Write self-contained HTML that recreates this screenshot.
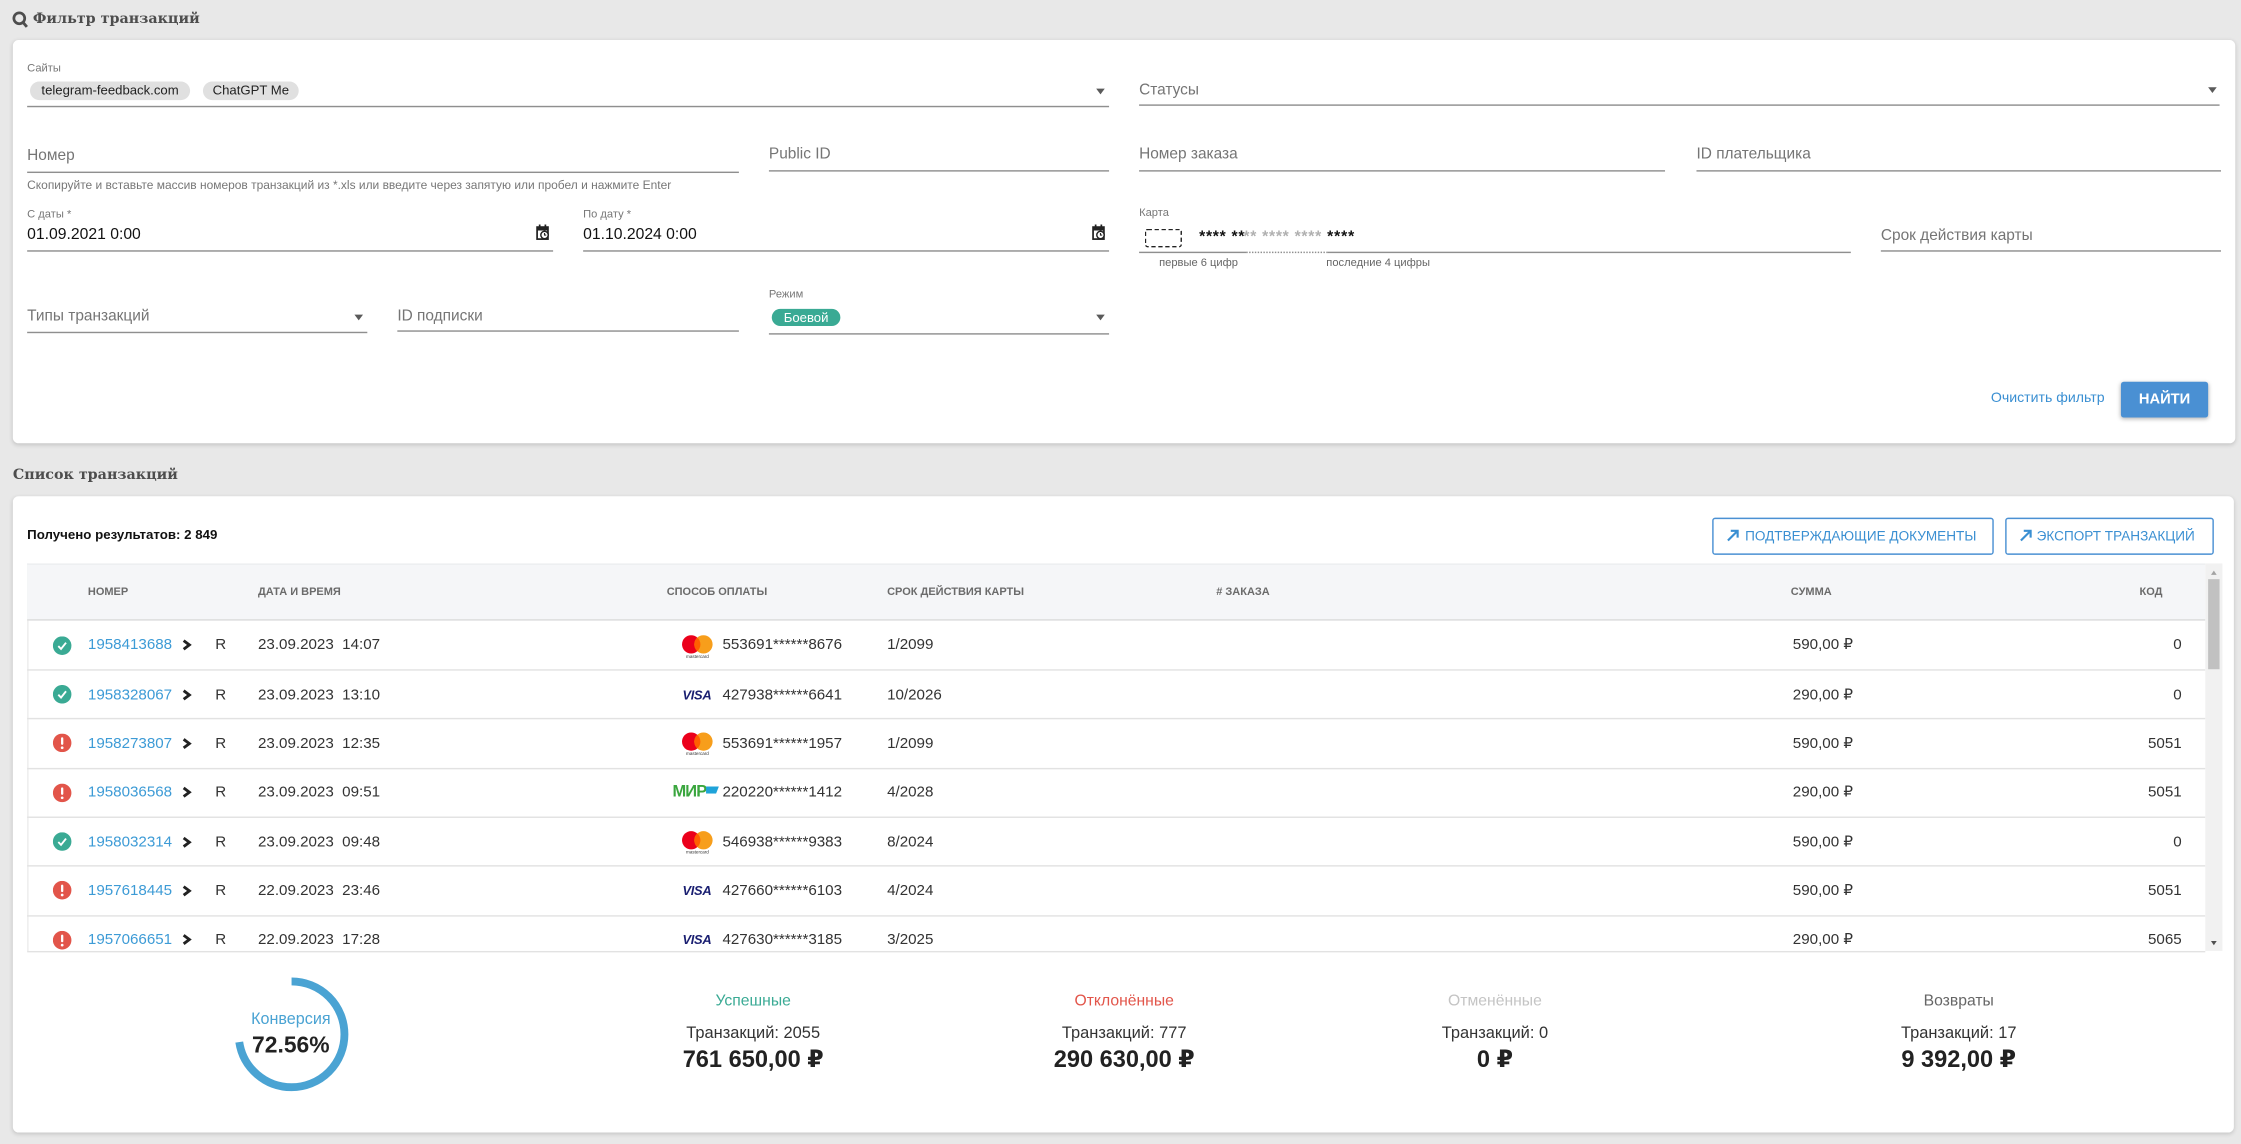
<!DOCTYPE html>
<html><head><meta charset="utf-8">
<style>
html,body{margin:0;padding:0;}
body{width:2241px;height:1144px;overflow:hidden;background:#e8e8e8;font-family:"Liberation Sans","DejaVu Sans",sans-serif;}
#w{position:absolute;left:0;top:0;width:1568px;height:800px;transform:scale(1.42921,1.43);transform-origin:0 0;}
.a{position:absolute;}
.t{position:absolute;white-space:nowrap;height:14px;line-height:14px;}
.lbl{font-size:10.8px;color:#757575;}
.sm{font-size:7.8px;color:#777;}
.ul{position:absolute;height:0.8px;background:#8f8f8f;}
.h{font-family:"DejaVu Serif","Liberation Serif",serif;font-weight:bold;font-size:10px;color:#4d4d4d;}
.panel{position:absolute;background:#fff;border-radius:4px;box-shadow:0 1px 3px rgba(0,0,0,0.16);}
.arr{position:absolute;width:0;height:0;border-left:3px solid transparent;border-right:3px solid transparent;border-top:4px solid #5a5a5a;}
.chip{position:absolute;background:#e0e0e0;border-radius:7px;font-size:9.2px;color:#222;text-align:center;height:13px;line-height:13px;white-space:nowrap;}
.th{position:absolute;white-space:nowrap;font-size:7.7px;font-weight:bold;color:#6b6b6b;height:12px;line-height:12px;}
.rl{position:absolute;left:19px;width:1524px;height:0.8px;background:#e2e2e2;}
.c{position:absolute;white-space:pre;font-size:10.6px;color:#333;height:14px;line-height:14px;}
.lnk{color:#3d9bd6;}
.st{position:absolute;width:200px;text-align:center;white-space:nowrap;}
</style></head>
<body>
<div id="w">

<!-- header 1 -->
<svg class="a" style="left:8px;top:7px" width="14" height="14" viewBox="0 0 14 14"><circle cx="5.5" cy="5.8" r="3.8" fill="none" stroke="#4d4d4d" stroke-width="1.9"/><line x1="8" y1="8.5" x2="10.8" y2="11.8" stroke="#4d4d4d" stroke-width="2"/></svg>
<div class="t h" style="left:23px;top:7px;">Фильтр транзакций</div>

<div class="panel" style="left:9px;top:28px;width:1555px;height:282px;"></div>

<!-- Row 1 -->
<div class="t sm" style="left:19px;top:40.5px;">Сайты</div>
<div class="chip" style="left:21px;top:57px;width:112px;">telegram-feedback.com</div>
<div class="chip" style="left:142px;top:57px;width:67px;">ChatGPT Me</div>
<div class="ul" style="left:19px;top:73.5px;width:757px;"></div>
<div class="arr" style="left:767px;top:61.5px;"></div>

<div class="t lbl" style="left:797px;top:55.5px;">Статусы</div>
<div class="ul" style="left:797px;top:73px;width:756px;"></div>
<div class="arr" style="left:1545px;top:61px;"></div>

<!-- Row 2 -->
<div class="t lbl" style="left:19px;top:101.5px;">Номер</div>
<div class="ul" style="left:19px;top:119.5px;width:498px;"></div>
<div class="t" style="left:19px;top:121.5px;font-size:8.4px;color:#777;">Скопируйте и вставьте массив номеров транзакций из *.xls или введите через запятую или пробел и нажмите Enter</div>

<div class="t lbl" style="left:538px;top:101px;">Public ID</div>
<div class="ul" style="left:538px;top:118.5px;width:238px;"></div>

<div class="t lbl" style="left:797px;top:101px;">Номер заказа</div>
<div class="ul" style="left:797px;top:118.5px;width:368px;"></div>

<div class="t lbl" style="left:1187px;top:101px;">ID плательщика</div>
<div class="ul" style="left:1187px;top:118.5px;width:367px;"></div>

<!-- Row 3 -->
<div class="t sm" style="left:19px;top:142.5px;">С даты *</div>
<div class="t" style="left:19px;top:156.5px;font-size:11px;color:#111;">01.09.2021 0:00</div>
<svg class="a" style="left:374.5px;top:156.5px" width="10" height="11" viewBox="0 0 10 11"><rect x="0.8" y="1.8" width="7.6" height="8.4" fill="none" stroke="#222" stroke-width="1.2"/><rect x="0.8" y="1.8" width="7.6" height="2.4" fill="#222"/><rect x="2" y="0" width="1.2" height="2.5" fill="#222"/><rect x="6" y="0" width="1.2" height="2.5" fill="#222"/><circle cx="6" cy="7.3" r="2.6" fill="#fff" stroke="#222" stroke-width="1"/><path d="M6 5.9 V7.4 H7.2" fill="none" stroke="#222" stroke-width="0.8"/></svg>
<div class="ul" style="left:19px;top:175px;width:368px;"></div>

<div class="t sm" style="left:408px;top:142.5px;">По дату *</div>
<div class="t" style="left:408px;top:156.5px;font-size:11px;color:#111;">01.10.2024 0:00</div>
<svg class="a" style="left:764px;top:156.5px" width="10" height="11" viewBox="0 0 10 11"><rect x="0.8" y="1.8" width="7.6" height="8.4" fill="none" stroke="#222" stroke-width="1.2"/><rect x="0.8" y="1.8" width="7.6" height="2.4" fill="#222"/><rect x="2" y="0" width="1.2" height="2.5" fill="#222"/><rect x="6" y="0" width="1.2" height="2.5" fill="#222"/><circle cx="6" cy="7.3" r="2.6" fill="#fff" stroke="#222" stroke-width="1"/><path d="M6 5.9 V7.4 H7.2" fill="none" stroke="#222" stroke-width="0.8"/></svg>
<div class="ul" style="left:408px;top:175px;width:368px;"></div>

<div class="t sm" style="left:797px;top:142px;">Карта</div>
<div class="a" style="left:801px;top:160px;width:23.5px;height:10.5px;border:1px dashed #222;border-radius:2px;"></div>
<div class="t" style="left:839px;top:159px;font-size:11px;font-weight:bold;color:#111;letter-spacing:0.5px;">**** **</div>
<div class="t" style="left:870px;top:159px;font-size:11px;font-weight:bold;color:#b0b0b0;letter-spacing:0.5px;">** **** ****</div>
<div class="t" style="left:928.6px;top:159px;font-size:11px;font-weight:bold;color:#111;letter-spacing:0.6px;">****</div>
<div class="ul" style="left:797px;top:175.5px;width:75px;"></div>
<div class="a" style="left:872px;top:175.5px;width:56.6px;height:0;border-top:0.8px dotted #8f8f8f;"></div>
<div class="ul" style="left:928.6px;top:175.5px;width:366.4px;"></div>
<div class="t" style="left:811px;top:177.3px;font-size:7.8px;color:#666;">первые 6 цифр</div>
<div class="t" style="left:928px;top:177.3px;font-size:7.8px;color:#666;">последние 4 цифры</div>

<div class="t lbl" style="left:1316px;top:157.5px;">Срок действия карты</div>
<div class="ul" style="left:1316px;top:175px;width:238px;"></div>

<!-- Row 4 -->
<div class="t lbl" style="left:19px;top:213.5px;">Типы транзакций</div>
<div class="ul" style="left:19px;top:231.5px;width:238px;"></div>
<div class="arr" style="left:248px;top:219.5px;"></div>

<div class="t lbl" style="left:278px;top:213.5px;">ID подписки</div>
<div class="ul" style="left:278px;top:231px;width:239px;"></div>

<div class="t sm" style="left:538px;top:198.7px;">Режим</div>
<div class="chip" style="left:540px;top:215.5px;width:48px;height:12.5px;line-height:12.5px;background:#3aaa94;color:#fff;">Боевой</div>
<div class="ul" style="left:538px;top:232.5px;width:238px;"></div>
<div class="arr" style="left:767px;top:219.5px;"></div>

<div class="t" style="left:1393px;top:272px;font-size:9.9px;color:#3a8fd2;">Очистить фильтр</div>
<div class="a" style="left:1484px;top:266.5px;width:61px;height:25px;background:#4a90d3;border-radius:2px;box-shadow:0 1px 3px rgba(0,0,0,0.3);color:#fff;font-size:10.3px;font-weight:bold;text-align:center;line-height:25px;">НАЙТИ</div>

<!-- header 2 -->
<div class="t h" style="left:9px;top:325.5px;">Список транзакций</div>
<div class="panel" style="left:9px;top:347px;width:1554px;height:445px;"></div>

<div class="t" style="left:19px;top:367px;font-size:9.3px;font-weight:bold;color:#111;">Получено результатов: 2 849</div>

<div class="a" style="left:1198px;top:362px;width:195px;height:23.5px;border:1px solid #4a90d3;border-radius:2px;"></div>
<svg class="a" style="left:1208px;top:370px" width="9" height="9" viewBox="0 0 9 9"><path d="M1 8 L7.5 1.5 M3 1.2 H7.8 V6" fill="none" stroke="#3a8fd2" stroke-width="1.5"/></svg>
<div class="t" style="left:1221px;top:368.5px;font-size:9.5px;color:#3a8fd2;">ПОДТВЕРЖДАЮЩИЕ ДОКУМЕНТЫ</div>

<div class="a" style="left:1402.5px;top:362px;width:144px;height:23.5px;border:1px solid #4a90d3;border-radius:2px;"></div>
<svg class="a" style="left:1413px;top:370px" width="9" height="9" viewBox="0 0 9 9"><path d="M1 8 L7.5 1.5 M3 1.2 H7.8 V6" fill="none" stroke="#3a8fd2" stroke-width="1.5"/></svg>
<div class="t" style="left:1425px;top:368.5px;font-size:9.5px;color:#3a8fd2;">ЭКСПОРТ ТРАНЗАКЦИЙ</div>

<!-- table -->
<div class="a" style="left:19px;top:394px;width:1524px;height:271px;border-left:0.8px solid #ececec;box-sizing:border-box;"></div>
<div class="a" style="left:19px;top:394px;width:1524px;height:40px;background:#f5f6f8;border-top:0.8px solid #eceef0;box-sizing:border-box;"></div>
<div class="a" style="left:19px;top:433.2px;width:1524px;height:1.2px;background:#dcdcdc;"></div>
<div class="th" style="left:61.5px;top:408px;">НОМЕР</div>
<div class="th" style="left:180.5px;top:408px;">ДАТА И ВРЕМЯ</div>
<div class="th" style="left:466.5px;top:408px;">СПОСОБ ОПЛАТЫ</div>
<div class="th" style="left:620.7px;top:408px;">СРОК ДЕЙСТВИЯ КАРТЫ</div>
<div class="th" style="left:851px;top:408px;"># ЗАКАЗА</div>
<div class="th" style="left:1253px;top:408px;">СУММА</div>
<div class="th" style="left:1497px;top:408px;">КОД</div>

<div class="rl" style="top:468px;"></div>
<div class="rl" style="top:502.3px;"></div>
<div class="rl" style="top:536.6px;"></div>
<div class="rl" style="top:570.9px;"></div>
<div class="rl" style="top:605.2px;"></div>
<div class="rl" style="top:639.5px;"></div>
<div class="rl" style="top:664.5px;"></div>

<!-- scrollbar -->
<div class="a" style="left:1543px;top:394px;width:12px;height:271px;background:#f1f1f1;"></div>
<div class="a" style="left:1545px;top:405px;width:8px;height:63px;background:#c1c1c1;"></div>
<div class="a" style="left:1546.5px;top:398.5px;width:0;height:0;border-left:2.5px solid transparent;border-right:2.5px solid transparent;border-bottom:3px solid #a3a3a3;"></div>
<div class="a" style="left:1546.5px;top:657.5px;width:0;height:0;border-left:2.5px solid transparent;border-right:2.5px solid transparent;border-top:3px solid #505050;"></div>

<!-- ROW 1 (cy 451.3) -->
<svg class="a" style="left:37px;top:444.8px" width="13" height="13" viewBox="0 0 13 13"><circle cx="6.5" cy="6.5" r="6.5" fill="#3aaa94"/><path d="M3.8 6.8 L5.7 8.8 L9.2 4.4" stroke="#fff" stroke-width="1.3" fill="none"/></svg>
<div class="c lnk" style="left:61.5px;top:444.3px;">1958413688</div>
<svg class="a" style="left:127px;top:447.3px" width="8" height="8" viewBox="0 0 8 8"><path d="M1.5 1 L5.5 4 L1.5 7" fill="none" stroke="#222" stroke-width="2"/></svg>
<div class="c" style="left:150.6px;top:444.3px;">R</div>
<div class="c" style="left:180.5px;top:444.3px;">23.09.2023  14:07</div>
<svg class="a" style="left:476.5px;top:443.5px" width="22" height="17" viewBox="0 0 22 17"><circle cx="6.6" cy="6.6" r="6.4" fill="#eb001b"/><circle cx="15.2" cy="6.6" r="6.4" fill="#f79e1b"/><path d="M10.9 1.8 A6.4 6.4 0 0 1 10.9 11.4 A6.4 6.4 0 0 1 10.9 1.8Z" fill="#ff5f00"/><text x="11" y="16" font-size="3.2" text-anchor="middle" fill="#333" font-family="Liberation Sans">mastercard</text></svg>
<div class="c" style="left:505.5px;top:444.3px;">553691******8676</div>
<div class="c" style="left:620.7px;top:444.3px;">1/2099</div>
<div class="c" style="left:1146.5px;top:444.3px;width:150px;text-align:right;">590,00 ₽</div>
<div class="c" style="left:1426.5px;top:444.3px;width:100px;text-align:right;">0</div>

<!-- ROW 2 (cy 485.6) -->
<svg class="a" style="left:37px;top:479.1px" width="13" height="13" viewBox="0 0 13 13"><circle cx="6.5" cy="6.5" r="6.5" fill="#3aaa94"/><path d="M3.8 6.8 L5.7 8.8 L9.2 4.4" stroke="#fff" stroke-width="1.3" fill="none"/></svg>
<div class="c lnk" style="left:61.5px;top:478.6px;">1958328067</div>
<svg class="a" style="left:127px;top:481.6px" width="8" height="8" viewBox="0 0 8 8"><path d="M1.5 1 L5.5 4 L1.5 7" fill="none" stroke="#222" stroke-width="2"/></svg>
<div class="c" style="left:150.6px;top:478.6px;">R</div>
<div class="c" style="left:180.5px;top:478.6px;">23.09.2023  13:10</div>
<div class="c" style="left:477.5px;top:478.6px;font-size:9px;font-weight:bold;font-style:italic;color:#1a1f71;letter-spacing:-0.2px;">VISA</div>
<div class="c" style="left:505.5px;top:478.6px;">427938******6641</div>
<div class="c" style="left:620.7px;top:478.6px;">10/2026</div>
<div class="c" style="left:1146.5px;top:478.6px;width:150px;text-align:right;">290,00 ₽</div>
<div class="c" style="left:1426.5px;top:478.6px;width:100px;text-align:right;">0</div>

<!-- ROW 3 (cy 519.9) -->
<svg class="a" style="left:37px;top:513.4px" width="13" height="13" viewBox="0 0 13 13"><circle cx="6.5" cy="6.5" r="6.5" fill="#e2554a"/><rect x="5.7" y="2.6" width="1.6" height="5.3" rx="0.8" fill="#fff"/><circle cx="6.5" cy="9.9" r="0.95" fill="#fff"/></svg>
<div class="c lnk" style="left:61.5px;top:512.9px;">1958273807</div>
<svg class="a" style="left:127px;top:515.9px" width="8" height="8" viewBox="0 0 8 8"><path d="M1.5 1 L5.5 4 L1.5 7" fill="none" stroke="#222" stroke-width="2"/></svg>
<div class="c" style="left:150.6px;top:512.9px;">R</div>
<div class="c" style="left:180.5px;top:512.9px;">23.09.2023  12:35</div>
<svg class="a" style="left:476.5px;top:512.1px" width="22" height="17" viewBox="0 0 22 17"><circle cx="6.6" cy="6.6" r="6.4" fill="#eb001b"/><circle cx="15.2" cy="6.6" r="6.4" fill="#f79e1b"/><path d="M10.9 1.8 A6.4 6.4 0 0 1 10.9 11.4 A6.4 6.4 0 0 1 10.9 1.8Z" fill="#ff5f00"/><text x="11" y="16" font-size="3.2" text-anchor="middle" fill="#333" font-family="Liberation Sans">mastercard</text></svg>
<div class="c" style="left:505.5px;top:512.9px;">553691******1957</div>
<div class="c" style="left:620.7px;top:512.9px;">1/2099</div>
<div class="c" style="left:1146.5px;top:512.9px;width:150px;text-align:right;">590,00 ₽</div>
<div class="c" style="left:1426.5px;top:512.9px;width:100px;text-align:right;">5051</div>

<!-- ROW 4 (cy 554.2) -->
<svg class="a" style="left:37px;top:547.7px" width="13" height="13" viewBox="0 0 13 13"><circle cx="6.5" cy="6.5" r="6.5" fill="#e2554a"/><rect x="5.7" y="2.6" width="1.6" height="5.3" rx="0.8" fill="#fff"/><circle cx="6.5" cy="9.9" r="0.95" fill="#fff"/></svg>
<div class="c lnk" style="left:61.5px;top:547.2px;">1958036568</div>
<svg class="a" style="left:127px;top:550.2px" width="8" height="8" viewBox="0 0 8 8"><path d="M1.5 1 L5.5 4 L1.5 7" fill="none" stroke="#222" stroke-width="2"/></svg>
<div class="c" style="left:150.6px;top:547.2px;">R</div>
<div class="c" style="left:180.5px;top:547.2px;">23.09.2023  09:51</div>
<div class="c" style="left:470.5px;top:547.2px;font-size:11.5px;font-weight:bold;color:#3aa63e;letter-spacing:-0.6px;">МИ<span style="color:#3aa63e">Р</span></div>
<svg class="a" style="left:493.5px;top:549.5px" width="9" height="5" viewBox="0 0 9 5"><path d="M0 0 H9 L7 5 H0Z" fill="#1fa3d9"/></svg>
<div class="c" style="left:505.5px;top:547.2px;">220220******1412</div>
<div class="c" style="left:620.7px;top:547.2px;">4/2028</div>
<div class="c" style="left:1146.5px;top:547.2px;width:150px;text-align:right;">290,00 ₽</div>
<div class="c" style="left:1426.5px;top:547.2px;width:100px;text-align:right;">5051</div>

<!-- ROW 5 (cy 588.5) -->
<svg class="a" style="left:37px;top:582px" width="13" height="13" viewBox="0 0 13 13"><circle cx="6.5" cy="6.5" r="6.5" fill="#3aaa94"/><path d="M3.8 6.8 L5.7 8.8 L9.2 4.4" stroke="#fff" stroke-width="1.3" fill="none"/></svg>
<div class="c lnk" style="left:61.5px;top:581.5px;">1958032314</div>
<svg class="a" style="left:127px;top:584.5px" width="8" height="8" viewBox="0 0 8 8"><path d="M1.5 1 L5.5 4 L1.5 7" fill="none" stroke="#222" stroke-width="2"/></svg>
<div class="c" style="left:150.6px;top:581.5px;">R</div>
<div class="c" style="left:180.5px;top:581.5px;">23.09.2023  09:48</div>
<svg class="a" style="left:476.5px;top:580.7px" width="22" height="17" viewBox="0 0 22 17"><circle cx="6.6" cy="6.6" r="6.4" fill="#eb001b"/><circle cx="15.2" cy="6.6" r="6.4" fill="#f79e1b"/><path d="M10.9 1.8 A6.4 6.4 0 0 1 10.9 11.4 A6.4 6.4 0 0 1 10.9 1.8Z" fill="#ff5f00"/><text x="11" y="16" font-size="3.2" text-anchor="middle" fill="#333" font-family="Liberation Sans">mastercard</text></svg>
<div class="c" style="left:505.5px;top:581.5px;">546938******9383</div>
<div class="c" style="left:620.7px;top:581.5px;">8/2024</div>
<div class="c" style="left:1146.5px;top:581.5px;width:150px;text-align:right;">590,00 ₽</div>
<div class="c" style="left:1426.5px;top:581.5px;width:100px;text-align:right;">0</div>

<!-- ROW 6 (cy 622.8) -->
<svg class="a" style="left:37px;top:616.3px" width="13" height="13" viewBox="0 0 13 13"><circle cx="6.5" cy="6.5" r="6.5" fill="#e2554a"/><rect x="5.7" y="2.6" width="1.6" height="5.3" rx="0.8" fill="#fff"/><circle cx="6.5" cy="9.9" r="0.95" fill="#fff"/></svg>
<div class="c lnk" style="left:61.5px;top:615.8px;">1957618445</div>
<svg class="a" style="left:127px;top:618.8px" width="8" height="8" viewBox="0 0 8 8"><path d="M1.5 1 L5.5 4 L1.5 7" fill="none" stroke="#222" stroke-width="2"/></svg>
<div class="c" style="left:150.6px;top:615.8px;">R</div>
<div class="c" style="left:180.5px;top:615.8px;">22.09.2023  23:46</div>
<div class="c" style="left:477.5px;top:615.8px;font-size:9px;font-weight:bold;font-style:italic;color:#1a1f71;letter-spacing:-0.2px;">VISA</div>
<div class="c" style="left:505.5px;top:615.8px;">427660******6103</div>
<div class="c" style="left:620.7px;top:615.8px;">4/2024</div>
<div class="c" style="left:1146.5px;top:615.8px;width:150px;text-align:right;">590,00 ₽</div>
<div class="c" style="left:1426.5px;top:615.8px;width:100px;text-align:right;">5051</div>

<!-- ROW 7 (cy 657.1) -->
<svg class="a" style="left:37px;top:650.6px" width="13" height="13" viewBox="0 0 13 13"><circle cx="6.5" cy="6.5" r="6.5" fill="#e2554a"/><rect x="5.7" y="2.6" width="1.6" height="5.3" rx="0.8" fill="#fff"/><circle cx="6.5" cy="9.9" r="0.95" fill="#fff"/></svg>
<div class="c lnk" style="left:61.5px;top:650.1px;">1957066651</div>
<svg class="a" style="left:127px;top:653.1px" width="8" height="8" viewBox="0 0 8 8"><path d="M1.5 1 L5.5 4 L1.5 7" fill="none" stroke="#222" stroke-width="2"/></svg>
<div class="c" style="left:150.6px;top:650.1px;">R</div>
<div class="c" style="left:180.5px;top:650.1px;">22.09.2023  17:28</div>
<div class="c" style="left:477.5px;top:650.1px;font-size:9px;font-weight:bold;font-style:italic;color:#1a1f71;letter-spacing:-0.2px;">VISA</div>
<div class="c" style="left:505.5px;top:650.1px;">427630******3185</div>
<div class="c" style="left:620.7px;top:650.1px;">3/2025</div>
<div class="c" style="left:1146.5px;top:650.1px;width:150px;text-align:right;">290,00 ₽</div>
<div class="c" style="left:1426.5px;top:650.1px;width:100px;text-align:right;">5065</div>

<!-- stats -->
<svg class="a" style="left:160px;top:680px" width="88" height="88" viewBox="0 0 88 88"><circle cx="44" cy="43.3" r="37" fill="none" stroke="#4aa3d3" stroke-width="5.5" stroke-dasharray="168.7 400" transform="rotate(-90 44 43.3)"/></svg>
<div class="st" style="left:103.5px;top:705px;font-size:11.3px;color:#4aa3d3;line-height:16px;">Конверсия</div>
<div class="st" style="left:103.5px;top:722px;font-size:16px;font-weight:bold;color:#222;line-height:20px;">72.56%</div>

<div class="st" style="left:427px;top:692px;font-size:11px;color:#3aaa94;line-height:16px;">Успешные</div>
<div class="st" style="left:427px;top:715px;font-size:11.5px;color:#333;line-height:16px;">Транзакций: 2055</div>
<div class="st" style="left:427px;top:731px;font-size:16.5px;font-weight:bold;color:#222;line-height:20px;">761 650,00 ₽</div>

<div class="st" style="left:686.6px;top:692px;font-size:11px;color:#e2554a;line-height:16px;">Отклонённые</div>
<div class="st" style="left:686.6px;top:715px;font-size:11.5px;color:#333;line-height:16px;">Транзакций: 777</div>
<div class="st" style="left:686.6px;top:731px;font-size:16.5px;font-weight:bold;color:#222;line-height:20px;">290 630,00 ₽</div>

<div class="st" style="left:946px;top:692px;font-size:11px;color:#c4c4c4;line-height:16px;">Отменённые</div>
<div class="st" style="left:946px;top:715px;font-size:11.5px;color:#333;line-height:16px;">Транзакций: 0</div>
<div class="st" style="left:946px;top:731px;font-size:16.5px;font-weight:bold;color:#222;line-height:20px;">0 ₽</div>

<div class="st" style="left:1270.5px;top:692px;font-size:11px;color:#666;line-height:16px;">Возвраты</div>
<div class="st" style="left:1270.5px;top:715px;font-size:11.5px;color:#333;line-height:16px;">Транзакций: 17</div>
<div class="st" style="left:1270.5px;top:731px;font-size:16.5px;font-weight:bold;color:#222;line-height:20px;">9 392,00 ₽</div>

</div>
</body></html>
